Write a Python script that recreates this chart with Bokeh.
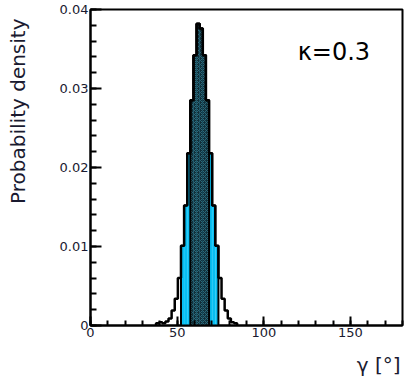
import math
from bokeh.plotting import figure
from bokeh.layouts import row, column
from bokeh.models import Range1d, FixedTicker, Label
from bokeh.core.properties import value
from bokeh.embed import file_html
from bokeh.resources import INLINE

# gamma histogram: 1.8 degree bins, probability density per bin
bin_width = 1.8
bin_lo = [37.8, 39.6, 41.4, 43.2, 45.0, 46.8, 48.6, 50.4, 52.2, 54.0, 55.8, 57.6, 59.4,
          61.2, 63.0, 64.8, 66.6, 68.4, 70.2, 72.0, 73.8, 75.6, 77.4, 79.2, 81.0, 82.8]
density = [0.0003, 0.0004, 0.0003, 0.0005, 0.0009, 0.0019, 0.0034, 0.0060, 0.0101, 0.0152,
           0.0218, 0.0285, 0.0342, 0.0382, 0.0376, 0.0342, 0.0285, 0.0218, 0.0152, 0.0101,
           0.0060, 0.0034, 0.0019, 0.0009, 0.0004, 0.0003]

# confidence regions, as [first, last] bin index
cl95_bins = (8, 19)
cl68_bins = (11, 16)

x_ticks = [0, 50, 100, 150]
y_ticks = [0.0, 0.01, 0.02, 0.03, 0.04]
kappa_text = "κ=0.3"
x_title = "γ [°]"
y_title = "Probability density"

FONT = "DejaVu Sans"
TXT = "#1a1a30"

W, H = 411, 382
LEFT_W = 36          # strip holding the vertical axis title
BOTTOM_H = 30        # strip holding the horizontal axis title
MAIN_W, MAIN_H = W - LEFT_W, H - BOTTOM_H

p = figure(width=MAIN_W, height=MAIN_H, output_backend="svg", toolbar_location=None,
           x_range=Range1d(0, 180), y_range=Range1d(0, 0.04),
           min_border_left=90 - LEFT_W, min_border_right=9, min_border_top=9,
           min_border_bottom=27)
p.background_fill_color = "white"
p.border_fill_color = "white"
p.grid.visible = False
p.outline_line_color = "black"
p.outline_line_width = 2


def step_path(i0, i1):
    xs, ys = [bin_lo[i0]], [0.0]
    for i in range(i0, i1 + 1):
        xs += [bin_lo[i], bin_lo[i] + bin_width]
        ys += [density[i], density[i]]
    xs.append(bin_lo[i1] + bin_width)
    ys.append(0.0)
    return xs, ys


def bars(i0, i1):
    lefts = bin_lo[i0:i1 + 1]
    rights = [b + bin_width for b in lefts]
    tops = density[i0:i1 + 1]
    return lefts, rights, tops


# 95% region
l, r, t = bars(*cl95_bins)
p.quad(left=l, right=r, top=t, bottom=0, fill_color="#08bff2", line_color=None)

# 68% region, hatched
l, r, t = bars(*cl68_bins)
p.quad(left=l, right=r, top=t, bottom=0, fill_color="#112f3a", line_color=None,
       hatch_pattern="x", hatch_color="#2c6a7b", hatch_scale=4, hatch_weight=1)

# region outlines and full distribution outline
for rng, w in ((cl95_bins, 2.0), (cl68_bins, 2.0), ((0, len(bin_lo) - 1), 2.5)):
    xs, ys = step_path(*rng)
    p.line(xs, ys, line_color="black", line_width=w)

# axes
for ax in (p.xaxis[0], p.yaxis[0]):
    ax.axis_line_color = "black"
    ax.axis_line_width = 2
    ax.major_tick_line_color = "black"
    ax.minor_tick_line_color = "black"
    ax.major_tick_line_width = 2
    ax.minor_tick_line_width = 2
    ax.major_tick_out = 0
    ax.minor_tick_out = 0
    ax.major_label_text_font = FONT
    ax.major_label_text_font_size = "13px"
    ax.major_label_text_color = TXT
    ax.major_label_standoff = 2

p.xaxis.ticker = FixedTicker(ticks=x_ticks, minor_ticks=list(range(0, 181, 10)))
p.xaxis.major_tick_in = 9
p.xaxis.minor_tick_in = 5
p.yaxis.ticker = FixedTicker(ticks=y_ticks, minor_ticks=[i * 0.002 for i in range(21)])
p.yaxis.major_tick_in = 11
p.yaxis.minor_tick_in = 6
p.xaxis.major_label_overrides = {0: "0", 50: "50", 100: "100", 150: "150"}
p.yaxis.major_label_overrides = {0: "0", 0.01: "0.01", 0.02: "0.02", 0.03: "0.03", 0.04: "0.04"}

p.add_layout(Label(x=119.5, y=0.0346, text=kappa_text, text_font=FONT,
                   text_font_size="24px", text_color="black", text_baseline="alphabetic"))


def text_strip(width, height):
    f = figure(width=width, height=height, output_backend="svg", toolbar_location=None,
               x_range=Range1d(0, width), y_range=Range1d(0, height),
               x_axis_type=None, y_axis_type=None, min_border=0)
    f.grid.visible = False
    f.outline_line_color = None
    f.background_fill_color = "white"
    f.border_fill_color = "white"
    return f


# vertical axis title, right-aligned to the top end of the axis
ly = text_strip(LEFT_W, MAIN_H)
ly.text(x=[5], y=[MAIN_H - 10], text=[y_title], angle=math.pi / 2,
        text_align="right", text_baseline="top", text_font=value(FONT),
        text_font_size="20px", text_color=TXT)

# horizontal axis title, right-aligned to the right end of the axis
lx = text_strip(W, BOTTOM_H)
lx.text(x=[400], y=[BOTTOM_H], text=[x_title], text_align="right",
        text_baseline="top", text_font=value(FONT), text_font_size="20px",
        text_color=TXT)

layout = column(row(ly, p, spacing=0), lx, spacing=0)
open("out.html", "w").write(file_html(layout, INLINE))
